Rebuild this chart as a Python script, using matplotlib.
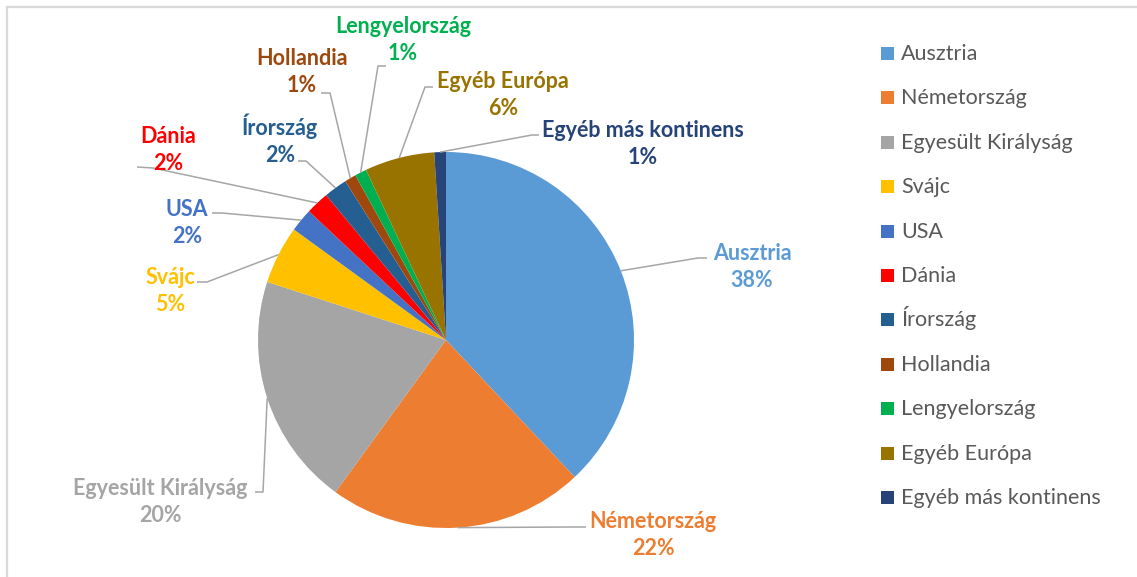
import numpy as np
import matplotlib
matplotlib.use('Agg')
from matplotlib import pyplot as plt
from matplotlib.lines import Line2D
from matplotlib.patches import Rectangle

plt.rcParams['font.family'] = ['Lato', 'DejaVu Sans']

countries = ['Ausztria', 'Németország', 'Egyesült Királyság', 'Svájc', 'USA', 'Dánia',
             'Írország', 'Hollandia', 'Lengyelország', 'Egyéb Európa', 'Egyéb más kontinens']
shares = [38, 22, 20, 5, 2, 2, 2, 1, 1, 6, 1]
colors = ['#5B9BD5', '#ED7D31', '#A5A5A5', '#FFC000', '#4472C4', '#FF0000',
          '#255E91', '#9E480E', '#00B050', '#997300', '#264478']

W, H = 1137, 577
CX, CY, R = 446, 340, 188   # pie centre / radius in pixels (from top-left)

# label layout in pixels: text centre, knee of leader, end of leader
label_pos = [(752, 267), (653, 535), (160, 502), (170, 291), (187, 223), (168, 150),
             (280, 140), (302, 72), (403, 40), (503, 95), (643, 144)]
leader_knee = [(698, 258), (570, 527), (263, 492), (207, 282), (222, 213), (153, 168),
               (306, 161), (330, 93), (378, 66), (425, 87), (532, 135)]
leader_end = [(707, 258), (586, 527), (255, 492), (197, 282), (212, 213), (137, 167),
              (298, 161), (321, 93), (386, 66), (433, 87), (539, 135)]


def to_data(p):
    return ((p[0] - CX) / R, (CY - p[1]) / R)


fig = plt.figure(figsize=(W / 100, H / 100), dpi=100)
ax = fig.add_axes([(CX - R) / W, (H - CY - R) / H, 2 * R / W, 2 * R / H])
ax.set_aspect('equal')
ax.axis('off')

wedges, _ = ax.pie(shares, colors=colors, startangle=90, counterclock=False,
                   radius=1, center=(0, 0), frame=False)
ax.set_xlim(-1, 1)
ax.set_ylim(-1, 1)

for w, name, val, col, tp, kp, ep in zip(wedges, countries, shares, colors,
                                          label_pos, leader_knee, leader_end):
    mid = np.deg2rad((w.theta1 + w.theta2) / 2)
    start = (np.cos(mid), np.sin(mid))
    k = to_data(kp)
    e = to_data(ep)
    ax.plot([start[0], k[0], e[0]], [start[1], k[1], e[1]], color='#A6A6A6',
            lw=1.1, clip_on=False, solid_capstyle='butt')
    t = to_data(tp)
    ax.text(t[0], t[1], '%s\n%d%%' % (name, val), color=col, fontsize=15.5,
            fontweight='bold', ha='center', va='center', multialignment='center',
            linespacing=1.35, clip_on=False)

# legend, evenly spaced rows like the original
row0, row_step = 60, 44.4
for i, (name, col) in enumerate(zip(countries, colors)):
    base = row0 + i * row_step
    fig.add_artist(Rectangle((881 / W, 1 - base / H), 13 / W, 13 / H,
                             facecolor=col, edgecolor='none', transform=fig.transFigure))
    fig.text(901 / W, 1 - base / H, name, fontsize=15.5, color='#595959',
             ha='left', va='baseline')

# light chart-area border (only top and left visible)
fig.add_artist(Line2D([6.5 / W, 1], [1 - 6.5 / H, 1 - 6.5 / H], color='#D9D9D9', lw=1.6,
                      transform=fig.transFigure))
fig.add_artist(Line2D([6.5 / W, 6.5 / W], [0, 1 - 6.5 / H], color='#D9D9D9', lw=1.6,
                      transform=fig.transFigure))

plt.savefig('out.png', dpi=100)
